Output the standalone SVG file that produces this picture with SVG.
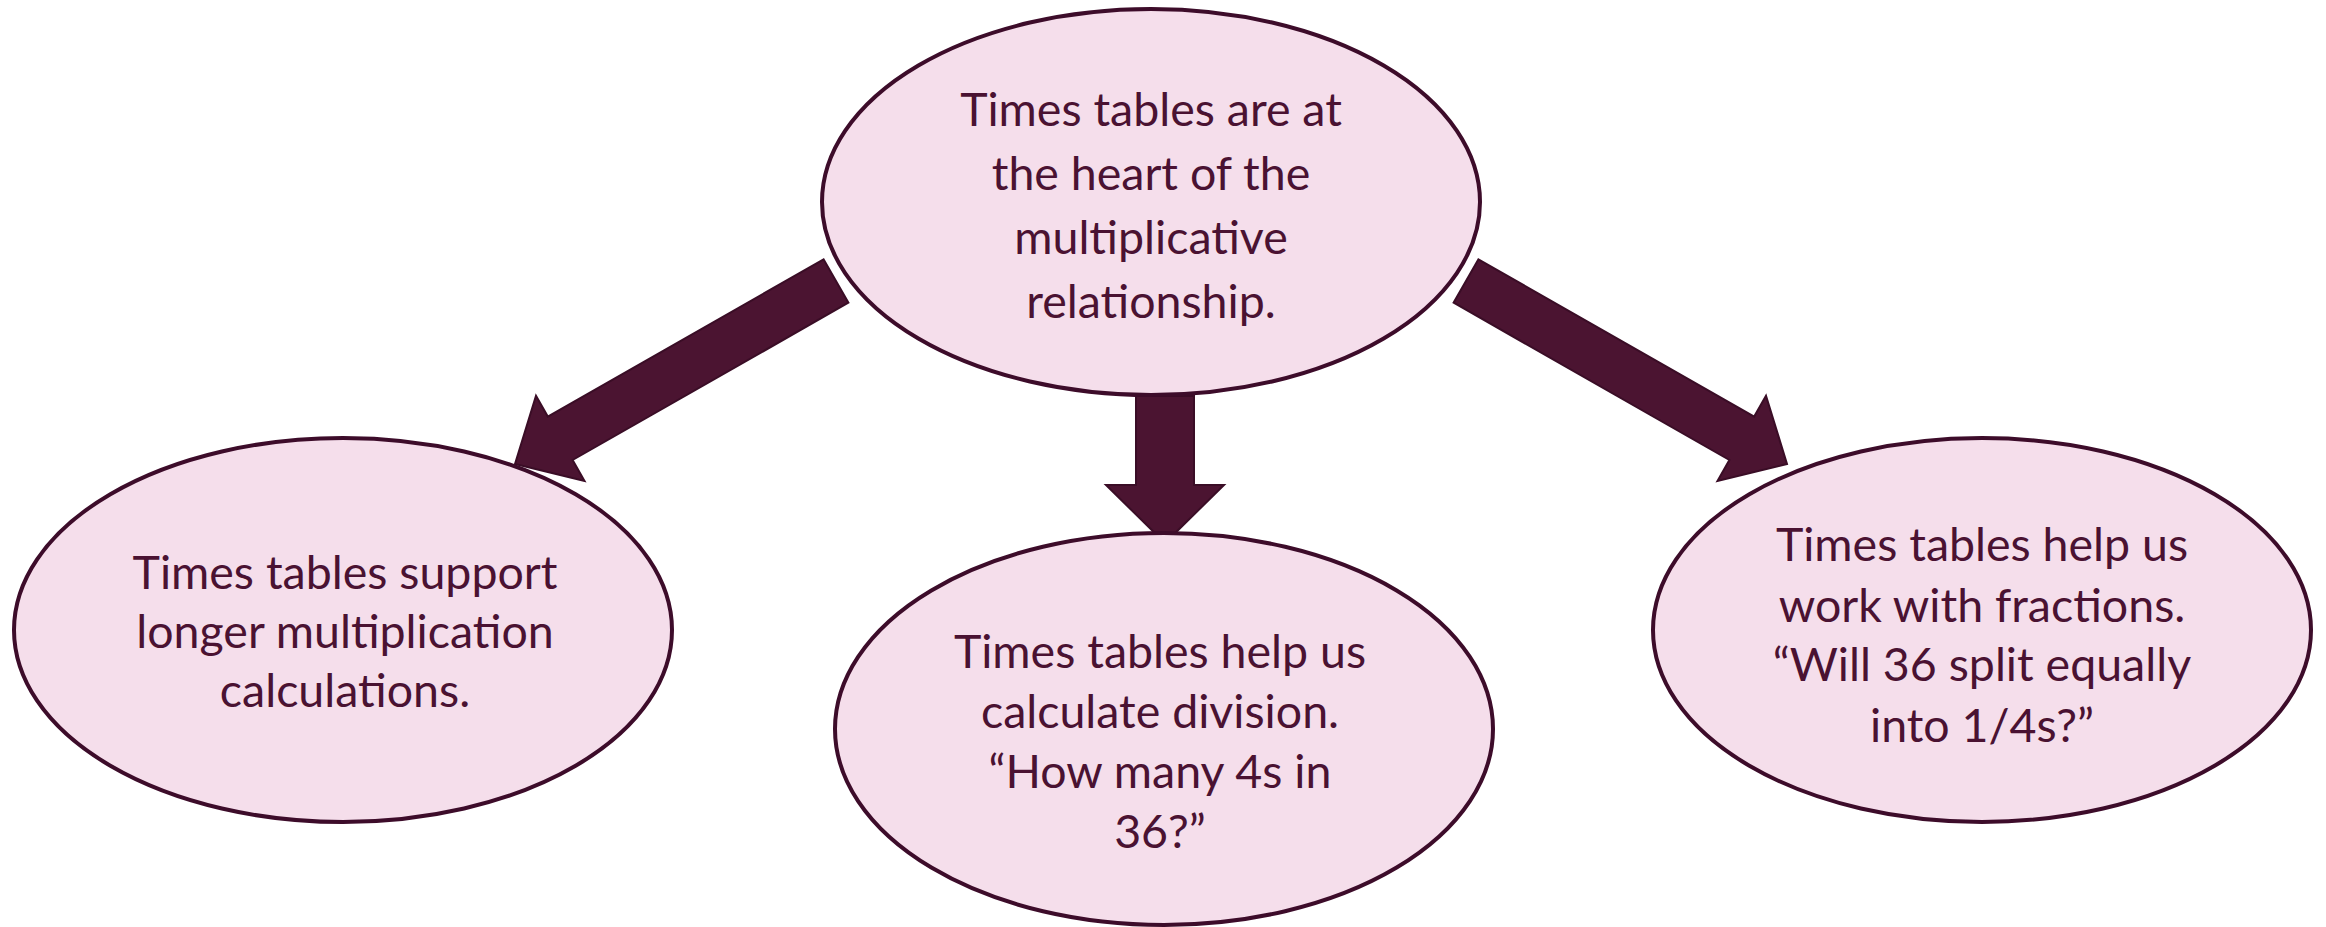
<svg xmlns="http://www.w3.org/2000/svg" width="2326" height="927" viewBox="0 0 2326 927">
<style>
.node ellipse{fill:#F5DEEB;stroke:#3D0C2A;stroke-width:4}
.node text{font-family:Lato,"Open Sans",sans-serif;font-size:46.5px;fill:#4A1232;text-anchor:middle}
.arrow{fill:#4B1431;stroke:#3A0D26;stroke-width:2;stroke-linejoin:miter}
</style>
<rect width="2326" height="927" fill="#ffffff"/>
<g id="connectors">
<polygon class="arrow" points="823.6,259.3 547.8,416.6 536,395.7 515,464 584.5,480.9 572.6,460 848.4,302.7"/>
<polygon class="arrow" points="1478.4,259.3 1754.2,416.6 1766,395.7 1787,464 1717.5,480.9 1729.4,460 1453.6,302.7"/>
<polygon class="arrow" points="1136,396 1194,396 1194,485 1224,485 1165,543 1106,485 1136,485"/>
</g>
<g id="node-top" class="node">
<ellipse cx="1151" cy="202" rx="329" ry="193"/>
<text x="1151" y="126">Times tables are at</text>
<text x="1151" y="190">the heart of the</text>
<text x="1151" y="254">multiplicative</text>
<text x="1151" y="318">relationship.</text>
</g>
<g id="node-left" class="node">
<ellipse cx="343" cy="630" rx="329" ry="192"/>
<text x="345" y="589">Times tables support</text>
<text x="345" y="648">longer multiplication</text>
<text x="345" y="707">calculations.</text>
</g>
<g id="node-middle" class="node">
<ellipse cx="1164" cy="729" rx="329" ry="196"/>
<text x="1160" y="668">Times tables help us</text>
<text x="1160" y="728">calculate division.</text>
<text x="1160" y="788">“How many 4s in</text>
<text x="1160" y="848">36?”</text>
</g>
<g id="node-right" class="node">
<ellipse cx="1982" cy="630" rx="329" ry="192"/>
<text x="1982" y="561">Times tables help us</text>
<text x="1982" y="622">work with fractions.</text>
<text x="1982" y="681">“Will 36 split equally</text>
<text x="1982" y="742">into 1/4s?”</text>
</g>
</svg>
